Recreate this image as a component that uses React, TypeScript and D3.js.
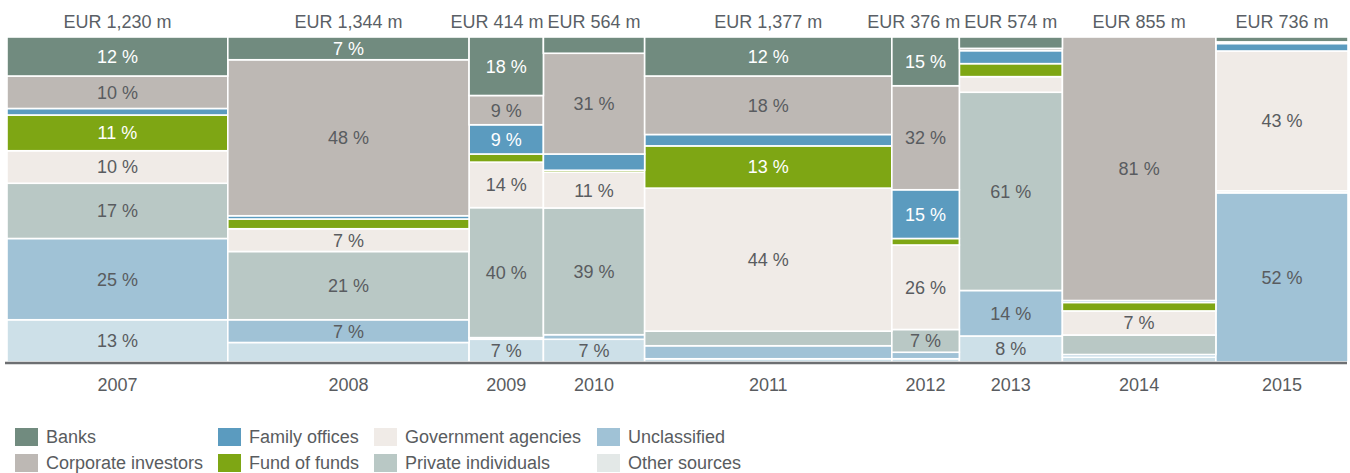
import React from "react";
import * as d3 from "d3";

// column totals and shares (%) per investor type
const years = ["2007", "2008", "2009", "2010", "2011", "2012", "2013", "2014", "2015"];
const totals = [1230, 1344, 414, 564, 1377, 376, 574, 855, 736];
const totalLabels = ["EUR 1,230 m", "EUR 1,344 m", "EUR 414 m", "EUR 564 m", "EUR 1,377 m", "EUR 376 m", "EUR 574 m", "EUR 855 m", "EUR 736 m"];

const banks = [12, 7, 18, 5, 12, 15, 3.5, 0, 1.5];
const corporate = [10, 48, 9, 31, 18, 32, 0.7, 81, 0.5];
const familyOffices = [2, 1, 9, 5, 3.5, 15, 4, 0.6, 2.3];
const fundOfFunds = [11, 3, 2.5, 0.6, 13, 2, 4, 2.6, 0];
const government = [10, 7, 14, 11, 44, 26, 4.8, 7.4, 43];
const privateInd = [17, 21, 40, 39, 4.5, 7, 61, 6, 0.6];
const unclassified = [25, 7, 0.5, 1.4, 4, 2, 14, 0.8, 52];
const otherSources = [13, 6, 7, 7, 1, 1, 8, 1.5, 0];

const series = [
  { name: "Banks", values: banks, color: "#718b7f", light: true },
  { name: "Corporate investors", values: corporate, color: "#bdb8b4", light: false },
  { name: "Family offices", values: familyOffices, color: "#5b9bbf", light: true },
  { name: "Fund of funds", values: fundOfFunds, color: "#7ea614", light: true },
  { name: "Government agencies", values: government, color: "#f0ebe7", light: false },
  { name: "Private individuals", values: privateInd, color: "#b9c8c5", light: false },
  { name: "Unclassified", values: unclassified, color: "#a0c2d6", light: false },
  { name: "Other sources", values: otherSources, color: "#cde0e8", light: false },
];

// legend placement: [column, row] for each series
const legendSlots = [[0, 0], [0, 1], [1, 0], [1, 1], [2, 0], [2, 1], [3, 0], [3, 1]];
const legendCols = [15, 218, 374, 597];
const legendRows = [437, 463];

const FONT = "'Liberation Sans', Arial, sans-serif";
const FS = 18;

function textWidth(s: string) {
  const ctx = document.createElement("canvas").getContext("2d");
  if (!ctx) return s.length * 9;
  ctx.font = `${FS}px ${FONT}`;
  return ctx.measureText(s).width;
}

export default function App() {
  const width = 1350;
  const height = 473;
  const left = 7;
  const right = 1348;
  const top = 37;
  const bottom = 362;

  const rows = years.map((y, i) => {
    const r: any = { year: y };
    series.forEach((s) => (r[s.name] = s.values[i]));
    return r;
  });

  // stack bottom-up, normalised so each column fills the height
  const keys = series.map((s) => s.name).reverse();
  const stacked = d3.stack().keys(keys).offset(d3.stackOffsetExpand)(rows);

  const cum = [0];
  totals.forEach((t) => cum.push(cum[cum.length - 1] + t));
  const x = d3.scaleLinear().domain([0, cum[cum.length - 1]]).range([left, right]);
  const y = d3.scaleLinear().domain([0, 1]).range([bottom, top]);

  const centers = years.map((_, i) => (x(cum[i]) + x(cum[i + 1])) / 2);

  // headers: push a label left when it runs into the one on its right
  const hw = totalLabels.map(textWidth);
  const hx = centers.slice();
  for (let i = hx.length - 2; i >= 0; i--) {
    const maxRight = hx[i + 1] - hw[i + 1] / 2 - 4;
    if (hx[i] + hw[i] / 2 > maxRight) hx[i] = maxRight - hw[i] / 2;
  }

  return (
    <svg
      width={width}
      height={height}
      style={{ position: "absolute", left: 0, top: 0, background: "#fff" }}
      fontFamily={FONT}
    >
      {stacked.map((layer) => {
        const s = series.find((d) => d.name === layer.key)!;
        return (
          <g key={layer.key}>
            {layer.map((d, i) => {
              const v = s.values[i];
              if (!v) return null;
              const x0 = x(cum[i]);
              const x1 = x(cum[i + 1]);
              const y0 = y(d[1]);
              const y1 = y(d[0]);
              return (
                <g key={i}>
                  <rect
                    x={x0}
                    y={y0}
                    width={x1 - x0}
                    height={y1 - y0}
                    fill={s.color}
                    stroke="#fff"
                    strokeWidth={1.6}
                  />
                  {v >= 7 && (
                    <text
                      x={(x0 + x1) / 2}
                      y={(y0 + y1) / 2}
                      dy="0.36em"
                      textAnchor="middle"
                      fontSize={FS}
                      fill={s.light ? "#ffffff" : "#595c60"}
                    >
                      {Math.round(v) + " %"}
                    </text>
                  )}
                </g>
              );
            })}
          </g>
        );
      })}

      {years.map((yr, i) => (
        <g key={yr}>
          <text x={hx[i]} y={28} textAnchor="middle" fontSize={FS} fill="#5a5f66">
            {totalLabels[i]}
          </text>
          <text x={centers[i]} y={391} textAnchor="middle" fontSize={FS} fill="#595c60">
            {yr}
          </text>
        </g>
      ))}

      <line x1={5} x2={1347} y1={bottom + 1} y2={bottom + 1} stroke="#6d6f72" strokeWidth={2.5} />

      {series.map((s, i) => {
        const [c, r] = legendSlots[i];
        const lx = legendCols[c];
        const ly = legendRows[r];
        return (
          <g key={s.name}>
            <rect
              x={lx}
              y={ly - 9}
              width={23}
              height={18}
              fill={s.name === "Other sources" ? "#e3e8e7" : s.color}
            />
            <text x={lx + 31} y={ly} dy="0.36em" fontSize={FS} fill="#595c60">
              {s.name}
            </text>
          </g>
        );
      })}
    </svg>
  );
}
